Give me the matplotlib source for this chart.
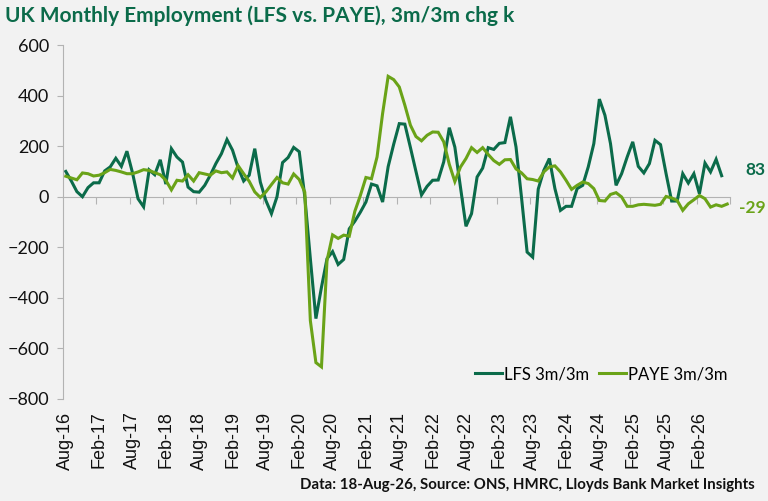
import matplotlib
matplotlib.use("Agg")
import matplotlib.pyplot as plt
import numpy as np

plt.rcParams['font.family'] = ['Lato', 'DejaVu Sans']

# ---- data ----
lfs = [100, 62, 20, 0, 36, 55, 55, 102, 118, 152,
       120, 180, 95, -8, -40, 106, 87, 146, 50, 190,
       157, 137, 38, 20, 18, 45, 85, 131, 170, 226,
       184, 115, 62, 85, 190, 58, -15, -67, 0, 135,
       155, 195, 178, 0, -245, -482, -358, -245, -217, -268,
       -248, -127, -97, -61, -21, 50, 43, -21, 119, 208,
       289, 287, 195, 100, 7, 41, 65, 66, 138, 273,
       196, 39, -117, -67, 78, 113, 194, 187, 211, 214,
       316, 197, -5, -219, -239, 30, 104, 151, 32, -54,
       -38, -38, 32, 45, 118, 210, 386, 322, 210, 45,
       91, 157, 217, 120, 94, 131, 223, 206, 91, -17,
       -17, 91, 54, 91, 12, 133, 98, 148, 83]
paye = [81, 74, 67, 94, 91, 82, 85, 95, 108, 104,
        98, 91, 91, 98, 107, 104, 95, 87, 65, 27,
        65, 62, 87, 62, 95, 90, 85, 102, 95, 98,
        74, 123, 91, 61, 19, -3, 19, 48, 76, 55,
        50, 90, 68, 18, -490, -656, -673, -252, -151, -165,
        -152, -156, -58, 5, 76, 71, 157, 329, 476, 463,
        434, 362, 283, 238, 221, 243, 256, 255, 217, 128,
        60, 117, 151, 194, 175, 194, 167, 143, 128, 146,
        147, 110, 94, 71, 68, 62, 98, 118, 122, 98,
        65, 29, 45, 58, 52, 32, -15, -17, 9, 16,
        -1, -38, -38, -32, -30, -32, -34, -30, 1, -5,
        -15, -54, -28, -12, 5, -8, -41, -32, -38, -29]
tick_labels = ["Aug-16", "Feb-17", "Aug-17", "Feb-18", "Aug-18", "Feb-19",
               "Aug-19", "Feb-20", "Aug-20", "Feb-21", "Aug-21", "Feb-22",
               "Aug-22", "Feb-23", "Aug-23", "Feb-24", "Aug-24", "Feb-25",
               "Aug-25", "Feb-26"]
n_cat = 120
title = "UK Monthly Employment (LFS vs. PAYE), 3m/3m chg k"
source = "Data: 18-Aug-26, Source: ONS, HMRC, Lloyds Bank Market Insights"

DARK = "#0B6B4A"
LIGHT = "#6AA318"
BG = "#F2F2F2"
GRID = "#B3B3B3"

fig = plt.figure(figsize=(7.68, 5.01), dpi=100, facecolor=BG)
ax = fig.add_axes([63/768, 1-399/501, (730-63)/768, (399-45)/501])
ax.set_facecolor(BG)

x_lfs = np.arange(len(lfs))
x_paye = np.arange(len(paye))
ax.plot(x_lfs, lfs, color=DARK, lw=2.2, label="LFS 3m/3m", solid_joinstyle='miter')
ax.plot(x_paye, paye, color=LIGHT, lw=2.2, label="PAYE 3m/3m", solid_joinstyle='miter')

ax.set_xlim(-0.5, n_cat - 0.5)
ax.set_ylim(-800, 600)
ax.set_yticks(np.arange(-800, 601, 200))
ax.tick_params(axis='y', direction='out', length=4, color=GRID, labelsize=13,
               labelcolor='#111111', pad=6)

for s in ['top', 'right']:
    ax.spines[s].set_visible(False)
ax.spines['left'].set_color(GRID)
ax.spines['bottom'].set_color(GRID)
ax.spines['bottom'].set_position(('data', 0))
ax.spines['bottom'].set_zorder(0)

# ticks on the zero line at category boundaries
bounds = np.arange(5.5, n_cat, 6)
ax.set_xticks(bounds)
ax.set_xticklabels([])
ax.tick_params(axis='x', direction='out', length=5, color=GRID)

# category labels at the bottom
sec = ax.secondary_xaxis('bottom')
sec.spines['bottom'].set_visible(False)
sec.set_xticks(np.arange(0, 6 * len(tick_labels), 6))
sec.set_xticklabels(tick_labels, rotation=90, fontsize=13, color='#111111',
                    family=['Liberation Sans', 'DejaVu Sans'])
sec.tick_params(axis='x', length=0, pad=9)

# end labels
ax.annotate(f"{lfs[-1]}", xy=(1.0, lfs[-1]), xycoords=('axes fraction', 'data'),
            xytext=(11, 4), textcoords='offset points', ha='left', va='center',
            fontsize=12.5, fontweight='bold', color=DARK)
ax.annotate(f"{paye[-1]}", xy=(1.0, paye[-1]), xycoords=('axes fraction', 'data'),
            xytext=(6.5, -2.5), textcoords='offset points', ha='left', va='center',
            fontsize=12.5, fontweight='bold', color=LIGHT)

leg = ax.legend(loc='upper left', bbox_to_anchor=(475/768, 1-366/501),
                bbox_transform=fig.transFigure, ncol=2, frameon=False,
                fontsize=12, handlelength=1.6, handletextpad=0.15,
                columnspacing=0.6, borderaxespad=0, borderpad=0)

fig.text(5/768, 1-16/501, title, fontsize=15, fontweight='bold', color=DARK,
         ha='left', va='center')
fig.text(755/768, 1-485/501, source, fontsize=10.8, fontweight='bold',
         color='#111111', ha='right', va='center')

fig.savefig("out.png", dpi=100, facecolor=BG)
